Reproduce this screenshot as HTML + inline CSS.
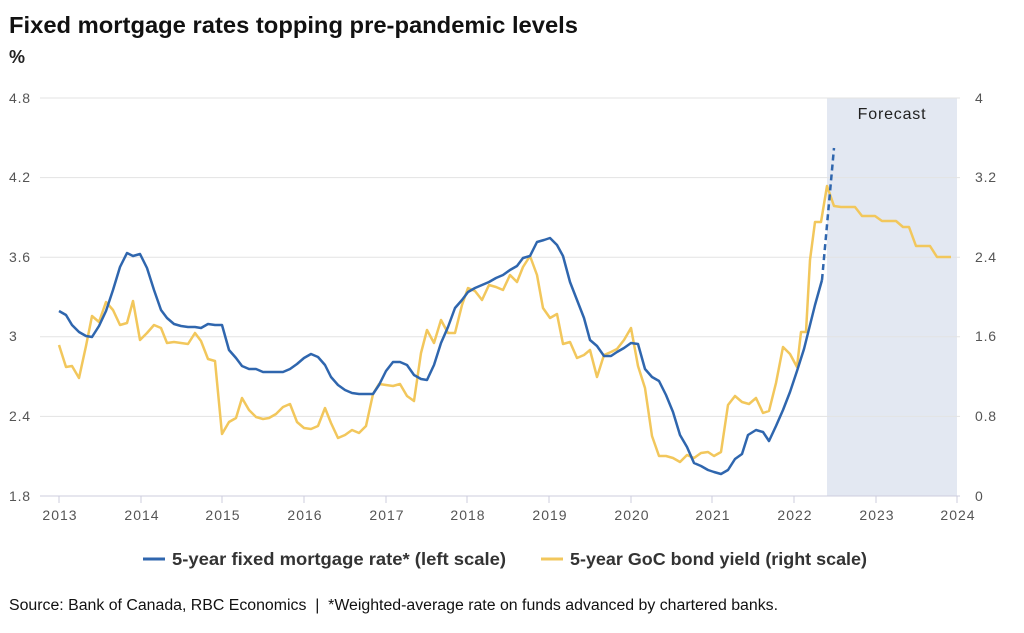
<!DOCTYPE html>
<html><head><meta charset="utf-8"><style>
body{margin:0;background:#fff;font-family:"Liberation Sans",Arial,sans-serif;}
</style></head><body>
<svg width="1024" height="628" xmlns="http://www.w3.org/2000/svg" font-family="Liberation Sans, Arial, sans-serif">
<rect width="1024" height="628" fill="#fff"/>
<text x="9" y="33" font-size="23" font-weight="bold" fill="#111" textLength="569" lengthAdjust="spacingAndGlyphs">Fixed mortgage rates topping pre-pandemic levels</text>
<text x="9" y="63" font-size="18" font-weight="bold" fill="#222">%</text>
<rect x="827" y="98" width="130" height="398" fill="#e3e8f2"/>
<text x="892" y="119" font-size="16" fill="#222" text-anchor="middle" letter-spacing="0.8">Forecast</text>
<g stroke="#e3e3e3" stroke-width="1">
<line x1="40" x2="960" y1="98" y2="98"/><line x1="40" x2="960" y1="177.6" y2="177.6"/><line x1="40" x2="960" y1="257.2" y2="257.2"/><line x1="40" x2="960" y1="336.8" y2="336.8"/><line x1="40" x2="960" y1="416.4" y2="416.4"/>
</g>
<line x1="40" x2="960" y1="496" y2="496" stroke="#ccd" stroke-width="1"/>
<g stroke="#ccd"><line x1="59" x2="59" y1="496" y2="503"/><line x1="141" x2="141" y1="496" y2="503"/><line x1="222" x2="222" y1="496" y2="503"/><line x1="304" x2="304" y1="496" y2="503"/><line x1="386" x2="386" y1="496" y2="503"/><line x1="467" x2="467" y1="496" y2="503"/><line x1="549" x2="549" y1="496" y2="503"/><line x1="631" x2="631" y1="496" y2="503"/><line x1="712" x2="712" y1="496" y2="503"/><line x1="794" x2="794" y1="496" y2="503"/><line x1="876" x2="876" y1="496" y2="503"/><line x1="957" x2="957" y1="496" y2="503"/></g>
<g font-size="14" fill="#555" text-anchor="middle" letter-spacing="1">
<text x="60" y="520">2013</text><text x="142" y="520">2014</text><text x="223" y="520">2015</text><text x="305" y="520">2016</text><text x="387" y="520">2017</text><text x="468" y="520">2018</text><text x="550" y="520">2019</text><text x="632" y="520">2020</text><text x="713" y="520">2021</text><text x="795" y="520">2022</text><text x="877" y="520">2023</text><text x="958" y="520">2024</text>
</g>
<g font-size="14" fill="#555" letter-spacing="0.8">
<text x="9" y="103">4.8</text><text x="9" y="182">4.2</text><text x="9" y="262">3.6</text><text x="9" y="341">3</text><text x="9" y="421">2.4</text><text x="9" y="501">1.8</text>
<text x="975" y="103">4</text><text x="975" y="182">3.2</text><text x="975" y="262">2.4</text><text x="975" y="341">1.6</text><text x="975" y="421">0.8</text><text x="975" y="501">0</text>
</g>
<polyline fill="none" stroke="#f2c75c" stroke-width="2.5" stroke-linejoin="round" points="59,345 66,367 72,366 79,378 86,346 92,316 99,322 106,302 113,310 120,325 127,323 133,301 140,340 147,333 154,325 161,328 167,343 174,342 181,343 188,344 195,333 201,341 208,359 215,361 222,434 229,422 236,418 242,398 249,410 256,417 263,419 269,418 276,414 283,407 290,404 297,422 304,428 311,429 318,426 325,408 331,423 338,438 345,435 352,430 359,433 366,426 373,394 379,384 386,385 393,386 400,384 407,396 414,401 421,353 427,330 434,343 441,320 448,333 455,333 462,305 468,288 475,291 482,300 489,285 496,287 503,290 510,275 517,282 523,267 530,256 537,275 543,308 550,318 557,314 563,344 570,342 577,358 584,355 590,350 597,377 604,355 611,352 617,349 624,340 631,328 638,366 645,388 652,436 659,456 666,456 673,458 680,462 687,455 694,458 701,453 708,452 714,456 721,452 728,405 735,396 742,402 749,404 756,398 763,413 769,411 776,383 783,347 790,354 797,367 801,332 806,332 810,260 815,222 821,222 827,186 834,206 841,207 848,207 855,207 862,216 868,216 875,216 882,221 889,221 896,221 903,227 909,227 916,246 923,246 930,246 937,257 944,257 951,257"/>
<polyline fill="none" stroke="#2f66ae" stroke-width="2.5" stroke-linejoin="round" points="59,311 66,315 72,325 79,332 86,336 92,337 99,326 106,311 113,290 120,267 127,253 133,256 140,254 147,268 154,290 161,310 167,318 174,324 181,326 188,327 195,327 201,328 208,324 215,325 222,325 229,350 236,358 242,366 249,369 256,369 263,372 269,372 276,372 283,372 290,369 297,364 304,358 311,354 318,357 325,365 331,377 338,385 345,390 352,393 359,394 366,394 373,394 379,385 386,371 393,362 400,362 407,365 414,375 421,379 427,380 434,365 441,343 448,327 455,308 462,300 468,292 475,288 482,285 489,282 496,278 503,275 510,270 517,266 523,258 530,256 537,242 544,240 550,238 557,245 563,256 570,282 577,300 584,318 590,340 597,346 604,356 611,356 617,352 624,348 631,343 638,344 645,369 652,377 659,381 666,395 673,412 680,435 687,447 694,463 701,466 708,470 714,472 721,474 728,470 735,459 742,454 748,435 756,430 763,432 769,441 776,426 783,410 790,392 797,371 804,349 810,325 815,305 822,280"/>
<line x1="822" y1="280" x2="834" y2="148" stroke="#2f66ae" stroke-width="2.5" stroke-dasharray="6,4"/>
<line x1="143" x2="165" y1="559" y2="559" stroke="#2f66ae" stroke-width="3"/>
<text x="172" y="565" font-size="17.5" font-weight="bold" fill="#333" textLength="334" lengthAdjust="spacingAndGlyphs">5-year fixed mortgage rate* (left scale)</text>
<line x1="541" x2="563" y1="559" y2="559" stroke="#f2c75c" stroke-width="3"/>
<text x="570" y="565" font-size="17.5" font-weight="bold" fill="#333" textLength="297" lengthAdjust="spacingAndGlyphs">5-year GoC bond yield (right scale)</text>
<text x="9" y="610" font-size="15.5" fill="#111" textLength="769" lengthAdjust="spacingAndGlyphs" xml:space="preserve">Source: Bank of Canada, RBC Economics  |  *Weighted-average rate on funds advanced by chartered banks.</text>
</svg>
</body></html>
